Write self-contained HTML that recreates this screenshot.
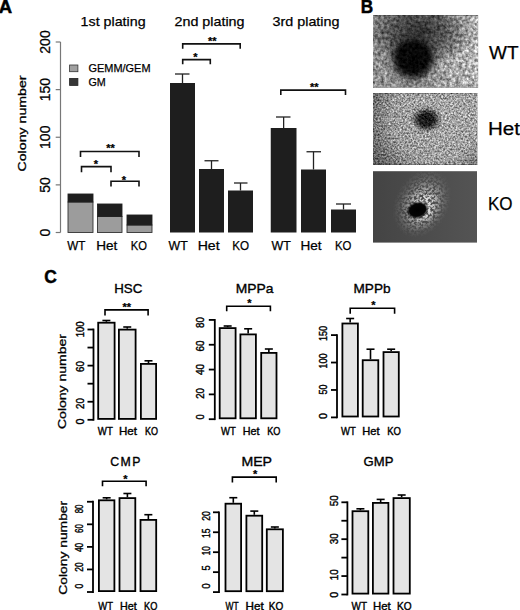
<!DOCTYPE html>
<html><head><meta charset="utf-8"><style>
html,body{margin:0;padding:0;background:#fff;}
svg{display:block;}
text{font-family:"Liberation Sans", sans-serif;stroke:#000;stroke-width:0.25px;}
text.b{stroke-width:0.5px;}
text.k{stroke-width:0.4px;}
text.t{stroke-width:0.35px;}
</style></head><body>
<svg width="520" height="610" viewBox="0 0 520 610">

<defs>
 <filter id="nz1" x="373" y="15" width="106" height="73" filterUnits="userSpaceOnUse" color-interpolation-filters="sRGB">
  <feTurbulence type="fractalNoise" baseFrequency="0.32" numOctaves="3" seed="3" result="t"/>
  <feColorMatrix in="t" type="matrix" values="1 0 0 0 0  1 0 0 0 0  1 0 0 0 0  0 0 0 0 1" result="g"/>
  <feComposite in="SourceGraphic" in2="g" operator="arithmetic" k1="1.2" k2="0.4" k3="0.15" k4="-0.07"/>
 </filter>
 <filter id="nz2" x="373" y="93" width="105" height="72" filterUnits="userSpaceOnUse" color-interpolation-filters="sRGB">
  <feTurbulence type="fractalNoise" baseFrequency="0.55" numOctaves="2" seed="7" result="t"/>
  <feColorMatrix in="t" type="matrix" values="1 0 0 0 0  1 0 0 0 0  1 0 0 0 0  0 0 0 0 1" result="g"/>
  <feComposite in="SourceGraphic" in2="g" operator="arithmetic" k1="0.9" k2="0.55" k3="0.45" k4="-0.2"/>
 </filter>
 <filter id="nz3" x="373" y="171" width="105" height="72" filterUnits="userSpaceOnUse" color-interpolation-filters="sRGB">
  <feTurbulence type="fractalNoise" baseFrequency="0.42" numOctaves="2" seed="11" result="t"/>
  <feColorMatrix in="t" type="matrix" values="0 0 0 0 1  0 0 0 0 1  0 0 0 0 1  3.5 0 0 0 -1.2" result="g"/>
  <feComposite in="SourceGraphic" in2="g" operator="arithmetic" k1="1" k2="0" k3="0" k4="0"/>
 </filter>
 <linearGradient id="l1" gradientUnits="userSpaceOnUse" x1="373" y1="0" x2="478" y2="0">
  <stop offset="0" stop-color="#8e8e8e"/>
  <stop offset="0.5" stop-color="#8c8c8c"/>
  <stop offset="0.75" stop-color="#a8a8a8"/>
  <stop offset="1" stop-color="#b4b4b4"/>
 </linearGradient>
 <radialGradient id="h1" gradientUnits="userSpaceOnUse" cx="420" cy="32" r="44" gradientTransform="translate(420 32) scale(1.25 0.8) translate(-420 -32)">
  <stop offset="0" stop-color="#000" stop-opacity="0.68"/>
  <stop offset="0.55" stop-color="#000" stop-opacity="0.42"/>
  <stop offset="1" stop-color="#000" stop-opacity="0"/>
 </radialGradient>
 <radialGradient id="c1" gradientUnits="userSpaceOnUse" cx="413" cy="58" r="29">
  <stop offset="0" stop-color="#050505"/>
  <stop offset="0.5" stop-color="#080808"/>
  <stop offset="0.62" stop-color="#111" stop-opacity="0.8"/>
  <stop offset="0.78" stop-color="#222" stop-opacity="0.3"/>
  <stop offset="1" stop-color="#333" stop-opacity="0"/>
 </radialGradient>
 <linearGradient id="l2" gradientUnits="userSpaceOnUse" x1="373" y1="0" x2="477" y2="0">
  <stop offset="0" stop-color="#9a9a9a"/>
  <stop offset="1" stop-color="#a4a4a4"/>
 </linearGradient>
 <radialGradient id="e2" gradientUnits="userSpaceOnUse" cx="435" cy="118" r="72">
  <stop offset="0" stop-color="#000" stop-opacity="0"/>
  <stop offset="0.6" stop-color="#000" stop-opacity="0.05"/>
  <stop offset="1" stop-color="#000" stop-opacity="0.45"/>
 </radialGradient>
 <radialGradient id="c2" gradientUnits="userSpaceOnUse" cx="426.5" cy="119.5" r="16" gradientTransform="translate(426.5 119.5) scale(1 0.85) translate(-426.5 -119.5)">
  <stop offset="0" stop-color="#111"/>
  <stop offset="0.45" stop-color="#181818"/>
  <stop offset="0.75" stop-color="#333" stop-opacity="0.55"/>
  <stop offset="1" stop-color="#444" stop-opacity="0"/>
 </radialGradient>
 <linearGradient id="l3" gradientUnits="userSpaceOnUse" x1="373" y1="0" x2="477" y2="0">
  <stop offset="0" stop-color="#444"/>
  <stop offset="1" stop-color="#545454"/>
 </linearGradient>
 <radialGradient id="h3" gradientUnits="userSpaceOnUse" cx="422" cy="203" r="37" fx="418" fy="209" gradientTransform="translate(422 203) rotate(-62) scale(1 0.74) translate(-422 -203)">
  <stop offset="0" stop-color="#e8e8e8"/>
  <stop offset="0.3" stop-color="#dddddd" stop-opacity="0.95"/>
  <stop offset="0.55" stop-color="#bbbbbb" stop-opacity="0.6"/>
  <stop offset="0.8" stop-color="#999999" stop-opacity="0.22"/>
  <stop offset="1" stop-color="#888888" stop-opacity="0"/>
 </radialGradient>
 <radialGradient id="c3" gradientUnits="userSpaceOnUse" cx="417.5" cy="210" r="11.5" gradientTransform="translate(417.5 210) rotate(-15) scale(1 0.75) translate(-417.5 -210)">
  <stop offset="0" stop-color="#000"/>
  <stop offset="0.7" stop-color="#050505"/>
  <stop offset="1" stop-color="#000" stop-opacity="0"/>
 </radialGradient>
</defs>

<rect width="520" height="610" fill="#fff"/>
<text x="-1.2" y="12.5" font-size="18.5" text-anchor="start" font-weight="bold" fill="#000" class="b">A</text>
<text x="80.6" y="25.8" font-size="13.5" text-anchor="start" font-weight="normal" fill="#000" textLength="65" lengthAdjust="spacingAndGlyphs">1st plating</text>
<text x="174.5" y="26" font-size="13.5" text-anchor="start" font-weight="normal" fill="#000" textLength="70" lengthAdjust="spacingAndGlyphs">2nd plating</text>
<text x="272.5" y="26" font-size="13.5" text-anchor="start" font-weight="normal" fill="#000" textLength="67" lengthAdjust="spacingAndGlyphs">3rd plating</text>
<line x1="60.5" y1="232.5" x2="60.5" y2="42.0" stroke="#777" stroke-width="1.2"/>
<line x1="55.7" y1="232.5" x2="60.5" y2="232.5" stroke="#777" stroke-width="1.2"/>
<text x="49.9" y="232.5" font-size="14" text-anchor="middle" font-weight="normal" fill="#000" transform="rotate(-90 49.9 232.5)">0</text>
<line x1="55.7" y1="184.875" x2="60.5" y2="184.875" stroke="#777" stroke-width="1.2"/>
<text x="49.9" y="184.875" font-size="14" text-anchor="middle" font-weight="normal" fill="#000" transform="rotate(-90 49.9 184.875)">50</text>
<line x1="55.7" y1="137.25" x2="60.5" y2="137.25" stroke="#777" stroke-width="1.2"/>
<text x="49.9" y="137.25" font-size="14" text-anchor="middle" font-weight="normal" fill="#000" transform="rotate(-90 49.9 137.25)">100</text>
<line x1="55.7" y1="89.625" x2="60.5" y2="89.625" stroke="#777" stroke-width="1.2"/>
<text x="49.9" y="89.625" font-size="14" text-anchor="middle" font-weight="normal" fill="#000" transform="rotate(-90 49.9 89.625)">150</text>
<line x1="55.7" y1="42.0" x2="60.5" y2="42.0" stroke="#777" stroke-width="1.2"/>
<text x="49.9" y="42.0" font-size="14" text-anchor="middle" font-weight="normal" fill="#000" transform="rotate(-90 49.9 42.0)">200</text>
<text x="25.8" y="123.5" font-size="11.8" text-anchor="middle" font-weight="normal" fill="#000" textLength="96" lengthAdjust="spacingAndGlyphs" transform="rotate(-90 25.8 123.5)" style="stroke-width:0.3px">Colony number</text>
<rect x="69.6" y="65" width="8.3" height="6.7" fill="#a0a0a0" stroke="#333" stroke-width="0.8"/>
<rect x="69.6" y="78.4" width="8.3" height="7" fill="#363636" stroke="#222" stroke-width="0.8"/>
<text x="88.5" y="71.9" font-size="11" text-anchor="start" font-weight="normal" fill="#000" textLength="62" lengthAdjust="spacingAndGlyphs">GEMM/GEM</text>
<text x="88.5" y="86.3" font-size="11" text-anchor="start" font-weight="normal" fill="#000" textLength="17.3" lengthAdjust="spacingAndGlyphs">GM</text>
<rect x="68" y="202" width="25" height="30.5" fill="#9c9c9c" stroke="#333" stroke-width="0.9"/>
<rect x="68" y="194" width="25" height="8" fill="#1e1e1e" stroke="#222" stroke-width="0.9"/>
<rect x="97.5" y="216.5" width="24.5" height="16.0" fill="#9c9c9c" stroke="#333" stroke-width="0.9"/>
<rect x="97.5" y="204" width="24.5" height="12.5" fill="#1e1e1e" stroke="#222" stroke-width="0.9"/>
<rect x="127" y="225" width="25" height="7.5" fill="#9c9c9c" stroke="#333" stroke-width="0.9"/>
<rect x="127" y="215" width="25" height="10" fill="#1e1e1e" stroke="#222" stroke-width="0.9"/>
<path d="M80.5 157V151.5H139V157" fill="none" stroke="#111" stroke-width="1.6"/>
<path d="M81.5 172.2V166.6H111V172.2" fill="none" stroke="#111" stroke-width="1.6"/>
<path d="M111 186.6V181.3H139V186.6" fill="none" stroke="#111" stroke-width="1.6"/>
<text x="110.5" y="152.3" font-size="11" text-anchor="middle" font-weight="bold" fill="#000">**</text>
<text x="95.8" y="168.1" font-size="11" text-anchor="middle" font-weight="bold" fill="#000">*</text>
<text x="124" y="183.5" font-size="11" text-anchor="middle" font-weight="bold" fill="#000">*</text>
<line x1="182.5" y1="83" x2="182.5" y2="74" stroke="#222" stroke-width="1.3"/>
<line x1="175" y1="74" x2="189.5" y2="74" stroke="#222" stroke-width="1.3"/>
<rect x="170" y="83" width="25" height="149.5" fill="#1e1e1e"/>
<line x1="211.5" y1="169" x2="211.5" y2="160.75" stroke="#222" stroke-width="1.3"/>
<line x1="204.5" y1="160.75" x2="218.5" y2="160.75" stroke="#222" stroke-width="1.3"/>
<rect x="199" y="169" width="25" height="63.5" fill="#1e1e1e"/>
<line x1="240.5" y1="190.5" x2="240.5" y2="183" stroke="#222" stroke-width="1.3"/>
<line x1="234" y1="183" x2="247.5" y2="183" stroke="#222" stroke-width="1.3"/>
<rect x="228" y="190.5" width="25" height="42.0" fill="#1e1e1e"/>
<line x1="283.625" y1="128" x2="283.625" y2="117" stroke="#222" stroke-width="1.3"/>
<line x1="276" y1="117" x2="290.5" y2="117" stroke="#222" stroke-width="1.3"/>
<rect x="270.75" y="128" width="25.75" height="104.5" fill="#1e1e1e"/>
<line x1="313.5" y1="169.5" x2="313.5" y2="151.75" stroke="#222" stroke-width="1.3"/>
<line x1="306.5" y1="151.75" x2="321" y2="151.75" stroke="#222" stroke-width="1.3"/>
<rect x="301" y="169.5" width="25" height="63.0" fill="#1e1e1e"/>
<line x1="343.5" y1="209.5" x2="343.5" y2="204" stroke="#222" stroke-width="1.3"/>
<line x1="336" y1="204" x2="351" y2="204" stroke="#222" stroke-width="1.3"/>
<rect x="331" y="209.5" width="25" height="23.0" fill="#1e1e1e"/>
<path d="M182.7 48.8V43.9H240.2V48.8" fill="none" stroke="#111" stroke-width="1.6"/>
<path d="M182.7 64.3V59.6H210.3V64.3" fill="none" stroke="#111" stroke-width="1.6"/>
<path d="M280.8 95V90.1H345.5V95" fill="none" stroke="#111" stroke-width="1.6"/>
<text x="212.3" y="44.6" font-size="11" text-anchor="middle" font-weight="bold" fill="#000">**</text>
<text x="195.5" y="61.3" font-size="11" text-anchor="middle" font-weight="bold" fill="#000">*</text>
<text x="314.2" y="91.4" font-size="11" text-anchor="middle" font-weight="bold" fill="#000">**</text>
<text x="67.3" y="249.6" font-size="13" text-anchor="start" font-weight="normal" fill="#000" textLength="18.1" lengthAdjust="spacingAndGlyphs">WT</text>
<text x="96.2" y="249.6" font-size="13" text-anchor="start" font-weight="normal" fill="#000" textLength="21.1" lengthAdjust="spacingAndGlyphs">Het</text>
<text x="130.8" y="249.6" font-size="13" text-anchor="start" font-weight="normal" fill="#000" textLength="16.2" lengthAdjust="spacingAndGlyphs">KO</text>
<text x="168.5" y="249.6" font-size="13" text-anchor="start" font-weight="normal" fill="#000" textLength="19.2" lengthAdjust="spacingAndGlyphs">WT</text>
<text x="197.7" y="249.6" font-size="13" text-anchor="start" font-weight="normal" fill="#000" textLength="21.9" lengthAdjust="spacingAndGlyphs">Het</text>
<text x="232.3" y="249.6" font-size="13" text-anchor="start" font-weight="normal" fill="#000" textLength="16.9" lengthAdjust="spacingAndGlyphs">KO</text>
<text x="271.5" y="249.6" font-size="13" text-anchor="start" font-weight="normal" fill="#000" textLength="19.3" lengthAdjust="spacingAndGlyphs">WT</text>
<text x="300.4" y="249.6" font-size="13" text-anchor="start" font-weight="normal" fill="#000" textLength="21.1" lengthAdjust="spacingAndGlyphs">Het</text>
<text x="335" y="249.6" font-size="13" text-anchor="start" font-weight="normal" fill="#000" textLength="16.5" lengthAdjust="spacingAndGlyphs">KO</text>
<text x="360.8" y="12.5" font-size="19" text-anchor="start" font-weight="bold" fill="#000" textLength="12.4" lengthAdjust="spacingAndGlyphs" class="b">B</text>
<g filter="url(#nz1)">
<rect x="373" y="15.3" width="105" height="72" fill="url(#l1)"/>
<rect x="373" y="15.3" width="105" height="72" fill="url(#h1)"/>
<rect x="373" y="15.3" width="105" height="72" fill="url(#c1)"/>
</g>
<g filter="url(#nz2)">
<rect x="373" y="93.2" width="104" height="71.5" fill="url(#l2)"/>
<rect x="373" y="93.2" width="104" height="71.5" fill="url(#e2)"/>
<rect x="373" y="93.2" width="104" height="71.5" fill="url(#c2)"/>
</g>
<rect x="373" y="171.2" width="104" height="71.4" fill="url(#l3)"/>
<g filter="url(#nz3)">
<rect x="373" y="171.2" width="104" height="71.4" fill="url(#h3)"/>
</g>
<rect x="373" y="171.2" width="104" height="71.4" fill="url(#c3)"/>
<text x="489" y="58.7" font-size="18" text-anchor="start" font-weight="normal" fill="#000" textLength="29.5" lengthAdjust="spacingAndGlyphs">WT</text>
<text x="488" y="134.7" font-size="18" text-anchor="start" font-weight="normal" fill="#000" textLength="32" lengthAdjust="spacingAndGlyphs">Het</text>
<text x="488" y="210" font-size="18" text-anchor="start" font-weight="normal" fill="#000" textLength="24.6" lengthAdjust="spacingAndGlyphs">KO</text>
<text x="44.2" y="282.8" font-size="19" text-anchor="start" font-weight="bold" fill="#000" textLength="12.6" lengthAdjust="spacingAndGlyphs" class="b">C</text>
<text x="114.2" y="293.2" font-size="13" text-anchor="start" font-weight="normal" fill="#000" textLength="28.1" lengthAdjust="spacingAndGlyphs" class="t">HSC</text>
<line x1="93.5" y1="420.7" x2="93.5" y2="328.6" stroke="#000" stroke-width="1.8"/>
<line x1="87.5" y1="419.8" x2="93.5" y2="419.8" stroke="#000" stroke-width="1.8"/>
<line x1="87.5" y1="401.74" x2="93.5" y2="401.74" stroke="#000" stroke-width="1.8"/>
<line x1="87.5" y1="383.68" x2="93.5" y2="383.68" stroke="#000" stroke-width="1.8"/>
<line x1="87.5" y1="365.62" x2="93.5" y2="365.62" stroke="#000" stroke-width="1.8"/>
<line x1="87.5" y1="347.56" x2="93.5" y2="347.56" stroke="#000" stroke-width="1.8"/>
<line x1="87.5" y1="329.5" x2="93.5" y2="329.5" stroke="#000" stroke-width="1.8"/>
<text x="83.6" y="421.5" font-size="10.5" text-anchor="middle" font-weight="normal" fill="#000" textLength="6" lengthAdjust="spacingAndGlyphs" transform="rotate(-90 83.6 421.5)" class="k">0</text>
<text x="83.6" y="403.6" font-size="10.5" text-anchor="middle" font-weight="normal" fill="#000" textLength="10.8" lengthAdjust="spacingAndGlyphs" transform="rotate(-90 83.6 403.6)" class="k">20</text>
<text x="83.6" y="366.6" font-size="10.5" text-anchor="middle" font-weight="normal" fill="#000" textLength="10.8" lengthAdjust="spacingAndGlyphs" transform="rotate(-90 83.6 366.6)" class="k">60</text>
<text x="83.6" y="329.3" font-size="10.5" text-anchor="middle" font-weight="normal" fill="#000" textLength="16" lengthAdjust="spacingAndGlyphs" transform="rotate(-90 83.6 329.3)" class="k">100</text>
<line x1="106.4" y1="321.8" x2="106.4" y2="320.5" stroke="#000" stroke-width="1.6"/>
<line x1="102.4" y1="320.5" x2="110.4" y2="320.5" stroke="#000" stroke-width="1.6"/>
<rect x="98.2" y="322.7" width="16.400000000000002" height="96.2" fill="#e4e4e4" stroke="#000" stroke-width="1.8"/>
<line x1="127.25" y1="328.7" x2="127.25" y2="327" stroke="#000" stroke-width="1.6"/>
<line x1="123.25" y1="327" x2="131.25" y2="327" stroke="#000" stroke-width="1.6"/>
<rect x="118.9" y="329.59999999999997" width="16.7" height="89.30000000000003" fill="#e4e4e4" stroke="#000" stroke-width="1.8"/>
<line x1="148.5" y1="363" x2="148.5" y2="360.8" stroke="#000" stroke-width="1.6"/>
<line x1="144.5" y1="360.8" x2="152.5" y2="360.8" stroke="#000" stroke-width="1.6"/>
<rect x="140.9" y="363.9" width="15.2" height="55.000000000000014" fill="#e4e4e4" stroke="#000" stroke-width="1.8"/>
<path d="M105 315.4V309.9H148.1V315.4" fill="none" stroke="#000" stroke-width="1.6"/>
<text x="126.7" y="310.5" font-size="11" text-anchor="middle" font-weight="bold" fill="#000">**</text>
<text x="97.8" y="435" font-size="11.3" text-anchor="start" font-weight="normal" fill="#000" textLength="15.0" lengthAdjust="spacingAndGlyphs" class="k">WT</text>
<text x="119" y="435" font-size="11.3" text-anchor="start" font-weight="normal" fill="#000" textLength="18" lengthAdjust="spacingAndGlyphs" class="k">Het</text>
<text x="145" y="435" font-size="11.3" text-anchor="start" font-weight="normal" fill="#000" textLength="13" lengthAdjust="spacingAndGlyphs" class="k">KO</text>
<text x="66.3" y="381.5" font-size="11.8" text-anchor="middle" font-weight="normal" fill="#000" textLength="95" lengthAdjust="spacingAndGlyphs" transform="rotate(-90 66.3 381.5)" style="stroke-width:0.3px">Colony number</text>
<text x="235.8" y="293.2" font-size="13" text-anchor="start" font-weight="normal" fill="#000" textLength="37.7" lengthAdjust="spacingAndGlyphs" class="t">MPPa</text>
<line x1="214.8" y1="420.09999999999997" x2="214.8" y2="319.02" stroke="#000" stroke-width="1.8"/>
<line x1="208.8" y1="419.2" x2="214.8" y2="419.2" stroke="#000" stroke-width="1.8"/>
<line x1="208.8" y1="394.38" x2="214.8" y2="394.38" stroke="#000" stroke-width="1.8"/>
<line x1="208.8" y1="369.56" x2="214.8" y2="369.56" stroke="#000" stroke-width="1.8"/>
<line x1="208.8" y1="344.74" x2="214.8" y2="344.74" stroke="#000" stroke-width="1.8"/>
<line x1="208.8" y1="319.91999999999996" x2="214.8" y2="319.91999999999996" stroke="#000" stroke-width="1.8"/>
<text x="203.6" y="416.9" font-size="10.5" text-anchor="middle" font-weight="normal" fill="#000" textLength="5.2" lengthAdjust="spacingAndGlyphs" transform="rotate(-90 203.6 416.9)" class="k">0</text>
<text x="203.6" y="393.4" font-size="10.5" text-anchor="middle" font-weight="normal" fill="#000" textLength="10.8" lengthAdjust="spacingAndGlyphs" transform="rotate(-90 203.6 393.4)" class="k">20</text>
<text x="203.6" y="369.5" font-size="10.5" text-anchor="middle" font-weight="normal" fill="#000" textLength="11" lengthAdjust="spacingAndGlyphs" transform="rotate(-90 203.6 369.5)" class="k">40</text>
<text x="203.6" y="345.9" font-size="10.5" text-anchor="middle" font-weight="normal" fill="#000" textLength="11" lengthAdjust="spacingAndGlyphs" transform="rotate(-90 203.6 345.9)" class="k">60</text>
<text x="203.6" y="322.5" font-size="10.5" text-anchor="middle" font-weight="normal" fill="#000" textLength="10.8" lengthAdjust="spacingAndGlyphs" transform="rotate(-90 203.6 322.5)" class="k">80</text>
<line x1="227.65" y1="327.2" x2="227.65" y2="326" stroke="#000" stroke-width="1.6"/>
<line x1="223.65" y1="326" x2="231.65" y2="326" stroke="#000" stroke-width="1.6"/>
<rect x="219.70000000000002" y="328.09999999999997" width="15.899999999999988" height="90.2" fill="#e4e4e4" stroke="#000" stroke-width="1.8"/>
<line x1="248.15" y1="333.5" x2="248.15" y2="328.8" stroke="#000" stroke-width="1.6"/>
<line x1="244.15" y1="328.8" x2="252.15" y2="328.8" stroke="#000" stroke-width="1.6"/>
<rect x="240.4" y="334.4" width="15.50000000000001" height="83.89999999999999" fill="#e4e4e4" stroke="#000" stroke-width="1.8"/>
<line x1="268.85" y1="352" x2="268.85" y2="349" stroke="#000" stroke-width="1.6"/>
<line x1="264.85" y1="349" x2="272.85" y2="349" stroke="#000" stroke-width="1.6"/>
<rect x="261.2" y="352.9" width="15.299999999999965" height="65.39999999999999" fill="#e4e4e4" stroke="#000" stroke-width="1.8"/>
<path d="M226.7 311.3V306.2H270.4V311.3" fill="none" stroke="#000" stroke-width="1.6"/>
<text x="249.4" y="307.2" font-size="11" text-anchor="middle" font-weight="bold" fill="#000">*</text>
<text x="221" y="434.6" font-size="11.3" text-anchor="start" font-weight="normal" fill="#000" textLength="14.8" lengthAdjust="spacingAndGlyphs" class="k">WT</text>
<text x="242.8" y="434.6" font-size="11.3" text-anchor="start" font-weight="normal" fill="#000" textLength="16.8" lengthAdjust="spacingAndGlyphs" class="k">Het</text>
<text x="267.2" y="434.6" font-size="11.3" text-anchor="start" font-weight="normal" fill="#000" textLength="13.2" lengthAdjust="spacingAndGlyphs" class="k">KO</text>
<text x="353.5" y="293.2" font-size="13" text-anchor="start" font-weight="normal" fill="#000" textLength="37.0" lengthAdjust="spacingAndGlyphs" class="t">MPPb</text>
<line x1="337" y1="418.29999999999995" x2="337" y2="334.195" stroke="#000" stroke-width="1.8"/>
<line x1="331" y1="417.4" x2="337" y2="417.4" stroke="#000" stroke-width="1.8"/>
<line x1="331" y1="389.965" x2="337" y2="389.965" stroke="#000" stroke-width="1.8"/>
<line x1="331" y1="362.53" x2="337" y2="362.53" stroke="#000" stroke-width="1.8"/>
<line x1="331" y1="335.09499999999997" x2="337" y2="335.09499999999997" stroke="#000" stroke-width="1.8"/>
<text x="326.9" y="416.1" font-size="10.5" text-anchor="middle" font-weight="normal" fill="#000" textLength="6" lengthAdjust="spacingAndGlyphs" transform="rotate(-90 326.9 416.1)" class="k">0</text>
<text x="326.9" y="389.4" font-size="10.5" text-anchor="middle" font-weight="normal" fill="#000" textLength="10" lengthAdjust="spacingAndGlyphs" transform="rotate(-90 326.9 389.4)" class="k">50</text>
<text x="326.9" y="361" font-size="10.5" text-anchor="middle" font-weight="normal" fill="#000" textLength="15.2" lengthAdjust="spacingAndGlyphs" transform="rotate(-90 326.9 361)" class="k">100</text>
<text x="326.9" y="333.4" font-size="10.5" text-anchor="middle" font-weight="normal" fill="#000" textLength="15.2" lengthAdjust="spacingAndGlyphs" transform="rotate(-90 326.9 333.4)" class="k">150</text>
<line x1="350.15" y1="322.6" x2="350.15" y2="318.5" stroke="#000" stroke-width="1.6"/>
<line x1="346.15" y1="318.5" x2="354.15" y2="318.5" stroke="#000" stroke-width="1.6"/>
<rect x="342.4" y="323.5" width="15.50000000000001" height="92.99999999999996" fill="#e4e4e4" stroke="#000" stroke-width="1.8"/>
<line x1="370.5" y1="359.3" x2="370.5" y2="349.2" stroke="#000" stroke-width="1.6"/>
<line x1="366.5" y1="349.2" x2="374.5" y2="349.2" stroke="#000" stroke-width="1.6"/>
<rect x="362.7" y="360.2" width="15.599999999999977" height="56.29999999999997" fill="#e4e4e4" stroke="#000" stroke-width="1.8"/>
<line x1="391.15" y1="351.2" x2="391.15" y2="349.2" stroke="#000" stroke-width="1.6"/>
<line x1="387.15" y1="349.2" x2="395.15" y2="349.2" stroke="#000" stroke-width="1.6"/>
<rect x="383.5" y="352.09999999999997" width="15.299999999999965" height="64.39999999999999" fill="#e4e4e4" stroke="#000" stroke-width="1.8"/>
<path d="M350.2 313.7V308.2H394.6V313.7" fill="none" stroke="#000" stroke-width="1.6"/>
<text x="373.3" y="309.3" font-size="11" text-anchor="middle" font-weight="bold" fill="#000">*</text>
<text x="341" y="434.6" font-size="11.3" text-anchor="start" font-weight="normal" fill="#000" textLength="14.8" lengthAdjust="spacingAndGlyphs" class="k">WT</text>
<text x="362.3" y="434.6" font-size="11.3" text-anchor="start" font-weight="normal" fill="#000" textLength="17.3" lengthAdjust="spacingAndGlyphs" class="k">Het</text>
<text x="387.2" y="434.6" font-size="11.3" text-anchor="start" font-weight="normal" fill="#000" textLength="13.7" lengthAdjust="spacingAndGlyphs" class="k">KO</text>
<text x="110.3" y="465.8" font-size="12.3" text-anchor="start" font-weight="normal" fill="#000" textLength="30.1" lengthAdjust="spacing" class="t">CMP</text>
<line x1="93" y1="592.9" x2="93" y2="500.86" stroke="#000" stroke-width="1.8"/>
<line x1="87" y1="592.0" x2="93" y2="592.0" stroke="#000" stroke-width="1.8"/>
<line x1="87" y1="569.44" x2="93" y2="569.44" stroke="#000" stroke-width="1.8"/>
<line x1="87" y1="546.88" x2="93" y2="546.88" stroke="#000" stroke-width="1.8"/>
<line x1="87" y1="524.32" x2="93" y2="524.32" stroke="#000" stroke-width="1.8"/>
<line x1="87" y1="501.76" x2="93" y2="501.76" stroke="#000" stroke-width="1.8"/>
<text x="83.1" y="586.1" font-size="10.5" text-anchor="middle" font-weight="normal" fill="#000" textLength="4.8" lengthAdjust="spacingAndGlyphs" transform="rotate(-90 83.1 586.1)" class="k">0</text>
<text x="83.1" y="567" font-size="10.5" text-anchor="middle" font-weight="normal" fill="#000" textLength="9.4" lengthAdjust="spacingAndGlyphs" transform="rotate(-90 83.1 567)" class="k">20</text>
<text x="83.1" y="547.4" font-size="10.5" text-anchor="middle" font-weight="normal" fill="#000" textLength="9.4" lengthAdjust="spacingAndGlyphs" transform="rotate(-90 83.1 547.4)" class="k">40</text>
<text x="83.1" y="528.6" font-size="10.5" text-anchor="middle" font-weight="normal" fill="#000" textLength="8.8" lengthAdjust="spacingAndGlyphs" transform="rotate(-90 83.1 528.6)" class="k">60</text>
<text x="83.1" y="508.9" font-size="10.5" text-anchor="middle" font-weight="normal" fill="#000" textLength="8.8" lengthAdjust="spacingAndGlyphs" transform="rotate(-90 83.1 508.9)" class="k">80</text>
<line x1="106.65" y1="499.4" x2="106.65" y2="497.8" stroke="#000" stroke-width="1.6"/>
<line x1="102.65" y1="497.8" x2="110.65" y2="497.8" stroke="#000" stroke-width="1.6"/>
<rect x="98.9" y="500.29999999999995" width="15.499999999999996" height="90.80000000000003" fill="#e4e4e4" stroke="#000" stroke-width="1.8"/>
<line x1="127.39999999999999" y1="497.2" x2="127.39999999999999" y2="493.5" stroke="#000" stroke-width="1.6"/>
<line x1="123.39999999999999" y1="493.5" x2="131.39999999999998" y2="493.5" stroke="#000" stroke-width="1.6"/>
<rect x="119.5" y="498.09999999999997" width="15.799999999999994" height="93.00000000000001" fill="#e4e4e4" stroke="#000" stroke-width="1.8"/>
<line x1="148.35" y1="519" x2="148.35" y2="514.7" stroke="#000" stroke-width="1.6"/>
<line x1="144.35" y1="514.7" x2="152.35" y2="514.7" stroke="#000" stroke-width="1.6"/>
<rect x="140.5" y="519.9" width="15.7" height="71.2" fill="#e4e4e4" stroke="#000" stroke-width="1.8"/>
<path d="M102.5 486.3V481.2H146.1V486.3" fill="none" stroke="#000" stroke-width="1.6"/>
<text x="125.3" y="482.5" font-size="11" text-anchor="middle" font-weight="bold" fill="#000">*</text>
<text x="98.3" y="609.5" font-size="11.3" text-anchor="start" font-weight="normal" fill="#000" textLength="14.7" lengthAdjust="spacingAndGlyphs" class="k">WT</text>
<text x="120" y="609.5" font-size="11.3" text-anchor="start" font-weight="normal" fill="#000" textLength="16.7" lengthAdjust="spacingAndGlyphs" class="k">Het</text>
<text x="144" y="609.5" font-size="11.3" text-anchor="start" font-weight="normal" fill="#000" textLength="13.3" lengthAdjust="spacingAndGlyphs" class="k">KO</text>
<text x="66.6" y="547.8" font-size="11.8" text-anchor="middle" font-weight="normal" fill="#000" textLength="94" lengthAdjust="spacingAndGlyphs" transform="rotate(-90 66.6 547.8)" style="stroke-width:0.3px">Colony number</text>
<text x="241.4" y="465.8" font-size="13" text-anchor="start" font-weight="normal" fill="#000" textLength="30.6" lengthAdjust="spacingAndGlyphs" class="t">MEP</text>
<line x1="219" y1="593.0" x2="219" y2="511.4" stroke="#000" stroke-width="1.8"/>
<line x1="213" y1="592.1" x2="219" y2="592.1" stroke="#000" stroke-width="1.8"/>
<line x1="213" y1="572.15" x2="219" y2="572.15" stroke="#000" stroke-width="1.8"/>
<line x1="213" y1="552.2" x2="219" y2="552.2" stroke="#000" stroke-width="1.8"/>
<line x1="213" y1="532.25" x2="219" y2="532.25" stroke="#000" stroke-width="1.8"/>
<line x1="213" y1="512.3" x2="219" y2="512.3" stroke="#000" stroke-width="1.8"/>
<text x="209.9" y="586" font-size="10.5" text-anchor="middle" font-weight="normal" fill="#000" textLength="5.4" lengthAdjust="spacingAndGlyphs" transform="rotate(-90 209.9 586)" class="k">0</text>
<text x="209.9" y="567.9" font-size="10.5" text-anchor="middle" font-weight="normal" fill="#000" textLength="5.2" lengthAdjust="spacingAndGlyphs" transform="rotate(-90 209.9 567.9)" class="k">5</text>
<text x="209.9" y="550.7" font-size="10.5" text-anchor="middle" font-weight="normal" fill="#000" textLength="9" lengthAdjust="spacingAndGlyphs" transform="rotate(-90 209.9 550.7)" class="k">10</text>
<text x="209.9" y="533.2" font-size="10.5" text-anchor="middle" font-weight="normal" fill="#000" textLength="9.5" lengthAdjust="spacingAndGlyphs" transform="rotate(-90 209.9 533.2)" class="k">15</text>
<text x="209.9" y="516" font-size="10.5" text-anchor="middle" font-weight="normal" fill="#000" textLength="9.5" lengthAdjust="spacingAndGlyphs" transform="rotate(-90 209.9 516)" class="k">20</text>
<line x1="233.3" y1="502.8" x2="233.3" y2="497.7" stroke="#000" stroke-width="1.6"/>
<line x1="229.3" y1="497.7" x2="237.3" y2="497.7" stroke="#000" stroke-width="1.6"/>
<rect x="225.5" y="503.7" width="15.600000000000005" height="87.50000000000001" fill="#e4e4e4" stroke="#000" stroke-width="1.8"/>
<line x1="254.3" y1="514.8" x2="254.3" y2="511.1" stroke="#000" stroke-width="1.6"/>
<line x1="250.3" y1="511.1" x2="258.3" y2="511.1" stroke="#000" stroke-width="1.6"/>
<rect x="246.4" y="515.6999999999999" width="15.800000000000022" height="75.50000000000007" fill="#e4e4e4" stroke="#000" stroke-width="1.8"/>
<line x1="274.85" y1="528.4" x2="274.85" y2="527" stroke="#000" stroke-width="1.6"/>
<line x1="270.85" y1="527" x2="278.85" y2="527" stroke="#000" stroke-width="1.6"/>
<rect x="266.79999999999995" y="529.3" width="16.100000000000033" height="61.90000000000005" fill="#e4e4e4" stroke="#000" stroke-width="1.8"/>
<path d="M232.4 482.5V477.1H276.2V482.5" fill="none" stroke="#000" stroke-width="1.6"/>
<text x="255.2" y="478.4" font-size="11" text-anchor="middle" font-weight="bold" fill="#000">*</text>
<text x="225.5" y="609.5" font-size="11.3" text-anchor="start" font-weight="normal" fill="#000" textLength="13.1" lengthAdjust="spacingAndGlyphs" class="k">WT</text>
<text x="245.5" y="609.5" font-size="11.3" text-anchor="start" font-weight="normal" fill="#000" textLength="18.2" lengthAdjust="spacingAndGlyphs" class="k">Het</text>
<text x="268.7" y="609.5" font-size="11.3" text-anchor="start" font-weight="normal" fill="#000" textLength="14.5" lengthAdjust="spacingAndGlyphs" class="k">KO</text>
<text x="363.6" y="465.8" font-size="13" text-anchor="start" font-weight="normal" fill="#000" textLength="29.8" lengthAdjust="spacingAndGlyphs" class="t">GMP</text>
<line x1="347.4" y1="595.4" x2="347.4" y2="501.40000000000003" stroke="#000" stroke-width="1.8"/>
<line x1="341.4" y1="594.5" x2="347.4" y2="594.5" stroke="#000" stroke-width="1.8"/>
<line x1="341.4" y1="576.06" x2="347.4" y2="576.06" stroke="#000" stroke-width="1.8"/>
<line x1="341.4" y1="557.62" x2="347.4" y2="557.62" stroke="#000" stroke-width="1.8"/>
<line x1="341.4" y1="539.18" x2="347.4" y2="539.18" stroke="#000" stroke-width="1.8"/>
<line x1="341.4" y1="520.74" x2="347.4" y2="520.74" stroke="#000" stroke-width="1.8"/>
<line x1="341.4" y1="502.3" x2="347.4" y2="502.3" stroke="#000" stroke-width="1.8"/>
<text x="337.7" y="594.8" font-size="10.5" text-anchor="middle" font-weight="normal" fill="#000" textLength="6" lengthAdjust="spacingAndGlyphs" transform="rotate(-90 337.7 594.8)" class="k">0</text>
<text x="337.7" y="574.8" font-size="10.5" text-anchor="middle" font-weight="normal" fill="#000" textLength="11" lengthAdjust="spacingAndGlyphs" transform="rotate(-90 337.7 574.8)" class="k">10</text>
<text x="337.7" y="538.7" font-size="10.5" text-anchor="middle" font-weight="normal" fill="#000" textLength="11" lengthAdjust="spacingAndGlyphs" transform="rotate(-90 337.7 538.7)" class="k">30</text>
<text x="337.7" y="500.7" font-size="10.5" text-anchor="middle" font-weight="normal" fill="#000" textLength="11" lengthAdjust="spacingAndGlyphs" transform="rotate(-90 337.7 500.7)" class="k">50</text>
<line x1="360.4" y1="510.3" x2="360.4" y2="508.8" stroke="#000" stroke-width="1.6"/>
<line x1="356.4" y1="508.8" x2="364.4" y2="508.8" stroke="#000" stroke-width="1.6"/>
<rect x="352.5" y="511.2" width="15.799999999999965" height="82.39999999999999" fill="#e4e4e4" stroke="#000" stroke-width="1.8"/>
<line x1="380.65" y1="502" x2="380.65" y2="499.4" stroke="#000" stroke-width="1.6"/>
<line x1="376.65" y1="499.4" x2="384.65" y2="499.4" stroke="#000" stroke-width="1.6"/>
<rect x="372.9" y="502.9" width="15.50000000000001" height="90.7" fill="#e4e4e4" stroke="#000" stroke-width="1.8"/>
<line x1="401.65" y1="497.2" x2="401.65" y2="495" stroke="#000" stroke-width="1.6"/>
<line x1="397.65" y1="495" x2="405.65" y2="495" stroke="#000" stroke-width="1.6"/>
<rect x="393.5" y="498.09999999999997" width="16.299999999999965" height="95.50000000000001" fill="#e4e4e4" stroke="#000" stroke-width="1.8"/>
<text x="351.6" y="610" font-size="11.3" text-anchor="start" font-weight="normal" fill="#000" textLength="15.4" lengthAdjust="spacingAndGlyphs" class="k">WT</text>
<text x="373" y="610" font-size="11.3" text-anchor="start" font-weight="normal" fill="#000" textLength="17.7" lengthAdjust="spacingAndGlyphs" class="k">Het</text>
<text x="397" y="610" font-size="11.3" text-anchor="start" font-weight="normal" fill="#000" textLength="14.6" lengthAdjust="spacingAndGlyphs" class="k">KO</text>
</svg>
</body></html>
